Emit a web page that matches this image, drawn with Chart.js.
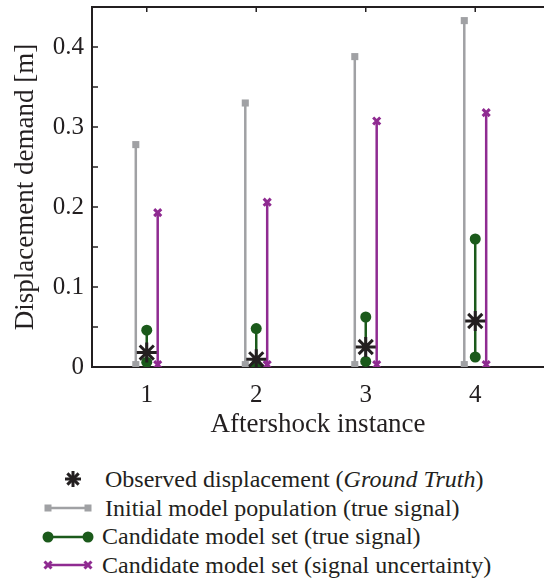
<!DOCTYPE html>
<html>
<head>
<meta charset="utf-8">
<script src="https://cdn.jsdelivr.net/npm/chart.js@4.4.1/dist/chart.umd.min.js"></script>
<style>
  html, body { margin: 0; padding: 0; background: #fff; width: 544px; height: 584px; overflow: hidden; }
  #wrap { position: absolute; left: 0; top: 0; width: 544px; height: 440px; }
  #legend { position: absolute; left: 40px; top: 465px; font-family: "Liberation Serif", "Times New Roman", serif; font-size: 24px; color: #231f20; }
  .row { display: flex; align-items: center; height: 28.7px; white-space: nowrap; }
  .row svg { flex: none; }
</style>
</head>
<body>
<div id="wrap"><canvas id="c" width="544" height="440"></canvas></div>
<div id="legend"></div>
<script>
// ---- data ----
const categories = [1, 2, 3, 4];
const categoryLabels = ['1', '2', '3', '4'];
const observed = [0.018, 0.0096, 0.025, 0.0575];
const initialLow = [0.003, 0.003, 0.003, 0.003];
const initialHigh = [0.278, 0.330, 0.388, 0.433];
const candidateLow = [0.006, 0.003, 0.007, 0.0125];
const candidateHigh = [0.046, 0.048, 0.0625, 0.160];
const uncertaintyLow = [0.003, 0.003, 0.003, 0.003];
const uncertaintyHigh = [0.193, 0.206, 0.3075, 0.318];
const yTickValues = [0, 0.05, 0.1, 0.15, 0.2, 0.25, 0.3, 0.35, 0.4];
const yLabelValues = [0, 0.1, 0.2, 0.3, 0.4];
const seriesNames = [
  'Observed displacement (<i>Ground Truth</i>)',
  'Initial model population (true signal)',
  'Candidate model set (true signal)',
  'Candidate model set (signal uncertainty)'
];

// ---- styles ----
const BLACK = '#231f20', GRAY = '#a0a1a4', GREEN = '#1b5a1b', PURPLE = '#8f2b91';
const OFFSET = 0.1; // horizontal dodge in category units

function ranges(lows, highs, off) {
  const pts = [];
  categories.forEach((c, i) => {
    pts.push({ x: c + off, y: lows[i] });
    pts.push({ x: c + off, y: highs[i] });
    pts.push({ x: c + off, y: null });
  });
  return pts;
}

const inwardTicks = {
  id: 'inwardTicks',
  afterDraw(chart) {
    const { ctx, chartArea: a, scales: { x, y } } = chart;
    ctx.save();
    ctx.strokeStyle = BLACK;
    ctx.lineWidth = 2;
    ctx.beginPath();
    ctx.moveTo(a.left - 1, a.top);
    ctx.lineTo(chart.width, a.top);
    ctx.stroke();
    ctx.lineWidth = 1.5;
    yTickValues.forEach(v => {
      const py = y.getPixelForValue(v);
      ctx.beginPath();
      ctx.moveTo(a.left, py);
      ctx.lineTo(a.left + 6, py);
      ctx.stroke();
    });
    categories.forEach(c => {
      const px = x.getPixelForValue(c);
      ctx.beginPath();
      ctx.moveTo(px, a.top);
      ctx.lineTo(px, a.top + 5);
      ctx.stroke();
    });
    ctx.restore();
  }
};

const fontFam = '"Liberation Serif", "Times New Roman", serif';

new Chart(document.getElementById('c'), {
  type: 'scatter',
  data: {
    datasets: [
      {
        label: 'Observed', data: categories.map((c, i) => ({ x: c, y: observed[i] })),
        pointStyle: 'star', pointRadius: 10, pointBorderWidth: 3,
        borderColor: BLACK, backgroundColor: BLACK, showLine: false, order: 0
      },
      {
        label: 'Candidate', data: ranges(candidateLow, candidateHigh, 0),
        showLine: true, spanGaps: false, borderColor: GREEN, backgroundColor: GREEN,
        borderWidth: 2.5, pointStyle: 'circle', pointRadius: 5.5, pointBorderWidth: 0, order: 1
      },
      {
        label: 'Initial', data: ranges(initialLow, initialHigh, -OFFSET),
        showLine: true, spanGaps: false, borderColor: GRAY, backgroundColor: GRAY,
        borderWidth: 2.5, pointStyle: 'rect', pointRadius: 5, pointBorderWidth: 0, order: 2
      },
      {
        label: 'Uncertainty', data: ranges(uncertaintyLow, uncertaintyHigh, OFFSET),
        showLine: true, spanGaps: false, borderColor: PURPLE, backgroundColor: PURPLE,
        borderWidth: 2.5, pointStyle: 'crossRot', pointRadius: 5, pointBorderWidth: 3, order: 3
      }
    ]
  },
  options: {
    responsive: false,
    animation: false,
    events: [],
    layout: { autoPadding: false, padding: { top: 7, right: 0, left: 0, bottom: 0 } },
    plugins: { legend: { display: false }, tooltip: { enabled: false } },
    scales: {
      x: {
        type: 'linear', min: 0.5, max: 4.628,
        afterBuildTicks: s => { s.ticks = categories.map(v => ({ value: v })); },
        afterFit: s => { s.height = 73; s.paddingLeft = 0; s.paddingRight = 0; },
        ticks: { color: BLACK, font: { family: fontFam, size: 25 }, padding: 13,
          callback: (v) => categoryLabels[categories.indexOf(v)] ?? '' },
        grid: { display: true, drawOnChartArea: false, drawTicks: false },
        border: { color: BLACK, width: 2 },
        title: { display: true, text: 'Aftershock instance', color: BLACK,
          font: { family: fontFam, size: 27 }, padding: { top: 0, bottom: -1 } }
      },
      y: {
        min: 0, max: 0.45,
        afterBuildTicks: s => { s.ticks = yTickValues.map(v => ({ value: v })); },
        afterFit: s => { s.width = 92; s.paddingTop = 0; s.paddingBottom = 0; },
        ticks: { color: BLACK, font: { family: fontFam, size: 25 }, padding: 8,
          callback: (v) => yLabelValues.some(l => Math.abs(l - v) < 1e-9) ? (v === 0 ? '0' : v.toFixed(1)) : '' },
        grid: { display: true, drawOnChartArea: false, drawTicks: false },
        border: { color: BLACK, width: 2 },
        title: { display: true, text: 'Displacement demand [m]', color: BLACK,
          font: { family: fontFam, size: 27 }, padding: { top: 10, bottom: 0 } }
      }
    }
  },
  plugins: [inwardTicks]
});

// ---- HTML legend ----
function icon(kind) {
  const w = 56, h = 20, cy = 10;
  let s = `<svg width="${w}" height="${h}" viewBox="0 0 ${w} ${h}">`;
  if (kind === 0) {
    const cx = 33, r = 8;
    s += `<g stroke="${BLACK}" stroke-width="3">`;
    s += `<line x1="${cx - r}" y1="${cy}" x2="${cx + r}" y2="${cy}"/><line x1="${cx}" y1="${cy - r}" x2="${cx}" y2="${cy + r}"/>`;
    const d = r * 0.707;
    s += `<line x1="${cx - d}" y1="${cy - d}" x2="${cx + d}" y2="${cy + d}"/><line x1="${cx - d}" y1="${cy + d}" x2="${cx + d}" y2="${cy - d}"/></g>`;
  } else {
    const col = [null, GRAY, GREEN, PURPLE][kind];
    const x1 = 8, x2 = 48;
    s += `<line x1="${x1}" y1="${cy}" x2="${x2}" y2="${cy}" stroke="${col}" stroke-width="2.5"/>`;
    [x1, x2].forEach(px => {
      if (kind === 1) s += `<rect x="${px - 3.5}" y="${cy - 3.5}" width="7" height="7" fill="${col}"/>`;
      if (kind === 2) s += `<circle cx="${px}" cy="${cy}" r="5.5" fill="${col}"/>`;
      if (kind === 3) s += `<g stroke="${col}" stroke-width="3"><line x1="${px - 3.5}" y1="${cy - 3.5}" x2="${px + 3.5}" y2="${cy + 3.5}"/><line x1="${px - 3.5}" y1="${cy + 3.5}" x2="${px + 3.5}" y2="${cy - 3.5}"/></g>`;
    });
  }
  return s + '</svg>';
}
const leg = document.getElementById('legend');
seriesNames.forEach((name, k) => {
  const gap = k < 2 ? 9 : 6;
  leg.innerHTML += `<div class="row">${icon(k)}<span style="margin-left:${gap}px">${name}</span></div>`;
});
</script>
</body>
</html>
